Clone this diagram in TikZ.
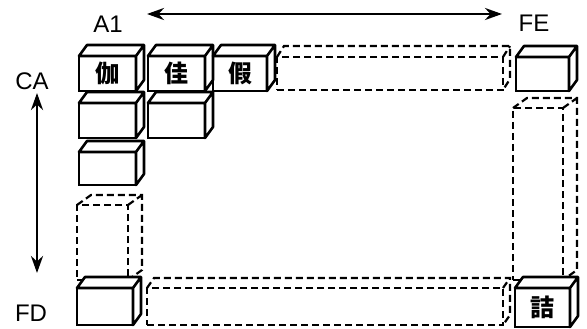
\documentclass[tikz,border=0pt]{standalone}
\usepackage{fontspec}
\setmainfont{Liberation Sans}
\newfontfamily\hanja{Noto Sans CJK KR}
\usetikzlibrary{arrows.meta}

\begin{document}
\begin{tikzpicture}[x=1pt,y=-1pt,font=\fontsize{24}{26}\selectfont,
	>={Stealth[length=17pt,width=12pt]},
	cell/.style={draw, fill=white, line width=2.6pt, outer sep=0pt, inner sep=0pt,
		minimum width=57pt, minimum height=35pt, font=\hanja\bfseries\fontsize{24}{25}\selectfont},
	cellside/.style={draw, fill=white, line width=2.6pt, line join=round},
	ghost/.style={draw, line width=2.2pt, dash pattern=on 7pt off 4pt, outer sep=0pt, inner sep=0pt}]
\useasboundingbox (0,0) rectangle (587,329);

%----------------------------
% Dashed runs (the cells in between)
%----------------------------
\node[ghost, minimum width=226pt, minimum height=33pt] (rowca) at (390,73.5) {};
\node[ghost, minimum width=356pt, minimum height=37pt] (rowfd) at (325,306.5) {};
\node[ghost, minimum width=51pt, minimum height=75pt] (cola1) at (102.5,242.5) {};
\node[ghost, minimum width=50pt, minimum height=172pt] (colfe) at (538,194) {};
\foreach \n/\dx/\dy in {rowca/7/11, rowfd/7/10, cola1/14/10, colfe/14/10}
	\draw[ghost] (\n.north west) -- ++(\dx,-\dy)
	-- ([shift={(\dx,-\dy)}]\n.north east) -- ([shift={(\dx,-\dy)}]\n.south east)
	-- (\n.south east) (\n.north east) -- ++(\dx,-\dy);

%----------------------------
% Solid cells
%----------------------------
\node[cell] (caa1) at (107.5,73.5) {伽};
\node[cell] (caa2) at (176.5,73.5) {佳};
\node[cell, minimum width=54pt] (caa3) at (240,73.5) {假};
\node[cell] (cba1) at (107.5,120.5) {};
\node[cell] (cba2) at (176.5,120.5) {};
\node[cell, minimum height=33pt] (cca1) at (107.5,168.5) {};
\node[cell, minimum width=56pt, minimum height=37pt] (fda1) at (105,306.5) {};
\node[cell, minimum width=53pt, minimum height=34pt] (cafe) at (542.5,74) {};
\node[cell, minimum width=55pt, minimum height=39pt] (fdfe) at (542.5,307.5) {詰};

% top and side faces
\foreach \n in {caa1,caa2,caa3,cba1,cba2,cca1,fda1,cafe,fdfe}
	\draw[cellside] (\n.north west) -- ++(8,-11)
	-- ([shift={(8,-11)}]\n.north east) -- ([shift={(8,-11)}]\n.south east)
	-- (\n.south east) -- (\n.north east) -- cycle
	(\n.north east) -- ++(8,-11);

%----------------------------
% Code ranges
%----------------------------
\node (a1) at (108,24) {A1};
\node (fe) at (534,23) {FE};
\node (ca) at (32,81) {CA};
\node (fd) at (31,313) {FD};

\coordinate (lofirst) at (147,14);
\coordinate (lolast) at (502,14);
\draw[<->, line width=2.8pt] (lofirst) -- (lolast);

\coordinate (hifirst) at (37,93);
\coordinate (hilast) at (37,273);
\draw[<->, line width=2.8pt] (hifirst) -- (hilast);

\end{tikzpicture}
\end{document}
